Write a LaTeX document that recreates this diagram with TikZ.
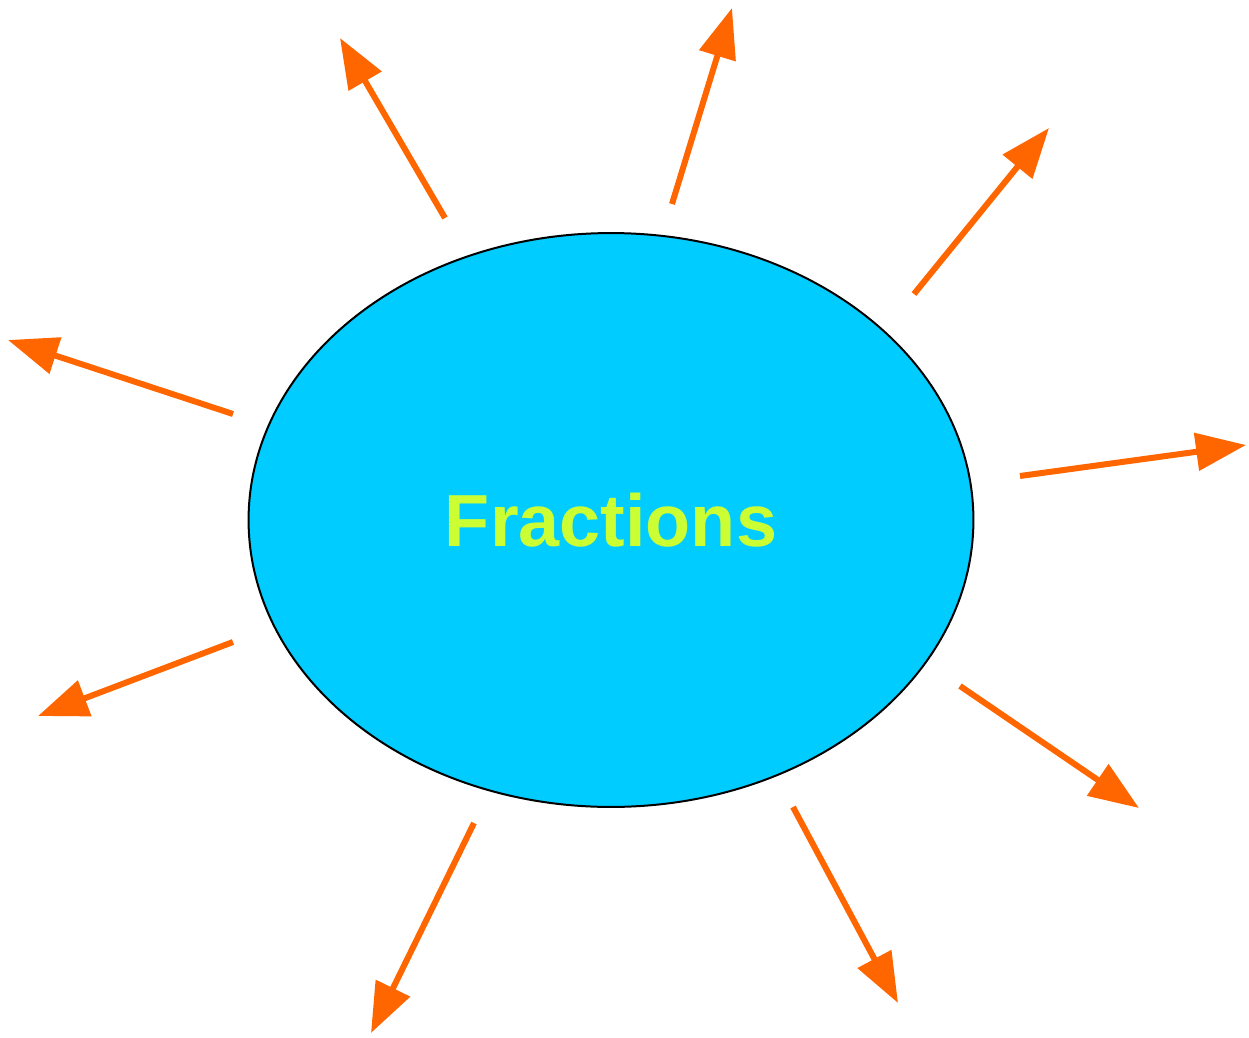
\documentclass[tikz,border=0pt]{standalone}
\usepackage{fontspec}
\setmainfont{Liberation Sans}
\usetikzlibrary{arrows.meta, shapes.geometric}

\definecolor{skyfill}{HTML}{00CCFF}
\definecolor{limetext}{HTML}{CCFF33}
\definecolor{rayorange}{HTML}{FF6600}

\begin{document}
\begin{tikzpicture}[x=0.02cm, y=-0.02cm,
    ray/.style={draw=rayorange, line width=0.12cm,
      -{Triangle[length=1cm, width=0.74cm]}}]
        \useasboundingbox (0,0) rectangle (1249,1038);
        \node (frac) [ellipse, draw=black, line width=0.04cm, fill=skyfill,
          minimum width=14.5cm, minimum height=11.48cm, inner sep=0pt,
          font=\fontsize{42}{50}\selectfont\bfseries, text=limetext]
          at (611,520) {Fractions};

        % ray ends
        \coordinate (s1) at (445,218);  \coordinate (t1) at (340,38);
        \coordinate (s2) at (672,204);  \coordinate (t2) at (732,8);
        \coordinate (s3) at (914,294);  \coordinate (t3) at (1049,128);
        \coordinate (s4) at (1020,476); \coordinate (t4) at (1246,445);
        \coordinate (s5) at (960,686);  \coordinate (t5) at (1139,808);
        \coordinate (s6) at (793,807);  \coordinate (t6) at (898,1003);
        \coordinate (s7) at (474,823);  \coordinate (t7) at (371,1033);
        \coordinate (s8) at (233,642);  \coordinate (t8) at (38,716);
        \coordinate (s9) at (233,414);  \coordinate (t9) at (8,340);

        \foreach \i in {1,...,9}
          \draw[ray] (s\i) -- (t\i);
    \end{tikzpicture}
\end{document}
